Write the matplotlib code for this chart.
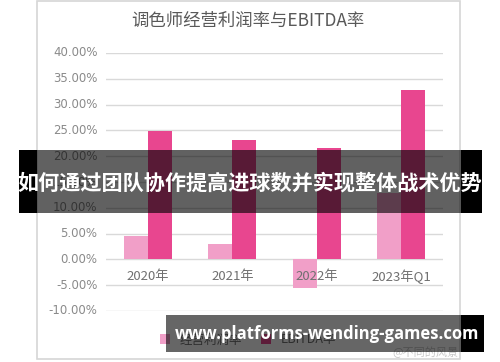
import matplotlib.pyplot as plt
from matplotlib.patches import Rectangle
import numpy as np

plt.rcParams['font.family'] = ['Noto Sans CJK SC', 'DejaVu Sans']

# Datos
categorias = ['2020年', '2021年', '2022年', '2023年Q1']
margen_operativo = [4.5, 3.0, -5.6, 12.8]
margen_ebitda = [24.8, 23.1, 21.5, 32.9]
yticks = [-10, -5, 0, 5, 10, 15, 20, 25, 30, 35, 40]
titulo = '调色师经营利润率与EBITDA率'
leyenda = ['经营利润率', 'EBITDA率']
banner = '如何通过团队协作提高进球数并实现整体战术优势'
marca = 'www.platforms-wending-games.com'

W, H = 500, 362
fig = plt.figure(figsize=(W / 100, H / 100), dpi=100, facecolor='white')

def px(x0, y0, x1, y1):
    # caja en pixeles (origen arriba-izquierda) -> coords de figura
    return (x0 / W, 1 - y1 / H, (x1 - x0) / W, (y1 - y0) / H)

# Tarjeta del grafico (debajo de los ejes)
x0, y0, w, h = px(37, 0.5, 460, 359)
fig.patches.append(Rectangle((x0, y0), w, h, transform=fig.transFigure,
                             facecolor='white', edgecolor='#d6d6d6', lw=1.2, zorder=-1))

fig.text(248 / W, 1 - 21 / H, titulo, ha='center', va='center',
         fontsize=12.5, color='#595959')

ax = fig.add_axes(px(106, 53, 443, 311))
ax.set_facecolor('none')
x = np.arange(len(categorias))
ancho = 0.285
c_claro = '#f19fc8'
c_oscuro = '#e8468f'
ax.bar(x - ancho / 2, margen_operativo, ancho, color=c_claro, zorder=3, label=leyenda[0])
ax.bar(x + ancho / 2, margen_ebitda, ancho, color=c_oscuro, zorder=3, label=leyenda[1])

ax.set_xlim(-0.5, 3.5)
ax.set_ylim(-10, 40)
for t in yticks:
    ax.axhline(t, color='#d9d9d9', lw=1, zorder=1)
    ax.text(-0.6, t, f'{t:.2f}%', ha='right', va='center', fontsize=8.5,
            color='#8a8a8a', family=['DejaVu Sans'])
for i, c in enumerate(categorias):
    ax.text(i, -3.3, c, ha='center', va='center', fontsize=9.5, color='#707070', zorder=4)

for s in ax.spines.values():
    s.set_visible(False)
ax.set_xticks([])
ax.set_yticks([])

fig.legend(loc='center', bbox_to_anchor=(248 / W, 1 - 340 / H), ncol=2, frameon=False,
           fontsize=9, handlelength=0.8, handleheight=0.8, columnspacing=1.5,
           labelcolor='#707070')

fig.text(425 / W, 1 - 352 / H, '@不同的风景', ha='center', va='center',
         fontsize=8, color='#c8c8c8')

# Banner oscuro
bx = [(19, 37, 1.0), (37, 461, 0.62), (461, 482, 1.0)]
for a, b, al in bx:
    r = px(a, 150, b, 213)
    fig.patches.append(Rectangle(r[:2], r[2], r[3], transform=fig.transFigure,
                                 facecolor='black', alpha=al, edgecolor='none', zorder=10))
fig.text(250 / W, 1 - 183 / H, banner, ha='center', va='center', fontsize=15.2,
         color='white', fontweight='bold', zorder=11)

# Marca de agua
wx = [(166, 461, 0.6), (461, 484, 1.0)]
for a, b, al in wx:
    r = px(a, 315, b, 352)
    fig.patches.append(Rectangle(r[:2], r[2], r[3], transform=fig.transFigure,
                                 facecolor='black', alpha=al, edgecolor='none', zorder=10))
fig.text(327 / W, 1 - 334 / H, marca, ha='center', va='center', fontsize=12,
         color='white', fontweight='bold', family=['Open Sans', 'DejaVu Sans'], zorder=11)

fig.savefig('out.png', dpi=100, facecolor='white')
